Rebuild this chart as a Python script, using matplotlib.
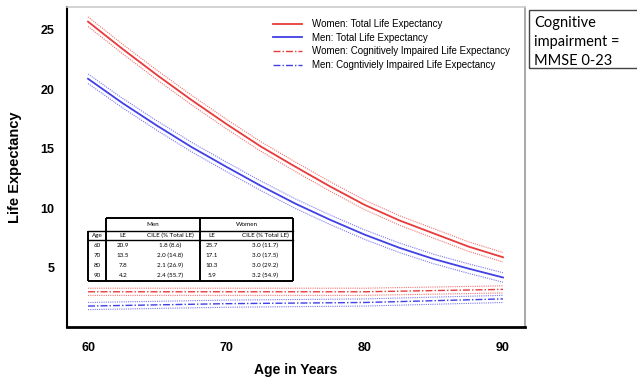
import matplotlib.pyplot as plt
from matplotlib.patches import Rectangle
import numpy as np

plt.rcParams['font.family'] = ['Liberation Sans', 'DejaVu Sans']

# --- data ---
ages = [60, 62.5, 65, 67.5, 70, 72.5, 75, 77.5, 80, 82.5, 85, 87.5, 90]
women_le = [25.7, 23.4, 21.2, 19.1, 17.1, 15.2, 13.5, 11.85, 10.3, 9.0, 7.9, 6.8, 5.9]
men_le = [20.9, 18.85, 16.95, 15.15, 13.5, 11.9, 10.4, 9.05, 7.8, 6.7, 5.75, 4.95, 4.2]
le_ci = 0.4

table_ages = [60, 70, 80, 90]
men_cile = [1.8, 2.0, 2.1, 2.4]
women_cile = [3.0, 3.0, 3.0, 3.2]
men_pct = [8.6, 14.8, 26.9, 55.7]
women_pct = [11.7, 17.5, 29.2, 54.9]
cile_ci = 0.3

RED = '#e83a3a'
BLUE = '#4040e6'

fig = plt.figure(figsize=(6.37, 3.80), dpi=100)
ax = fig.add_axes([67/637, 53/380, 458/637, 320/380])

def band(x, y, half, color):
    y = np.asarray(y)
    for off in (-half, half):
        ax.plot(x, y + off, color=color, lw=0.8, ls=(0, (1, 1)), alpha=0.7)

# total life expectancy
band(ages, women_le, le_ci, RED)
band(ages, men_le, le_ci, BLUE)
ax.plot(ages, women_le, color=RED, lw=1.3, label='Women: Total Life Expectancy')
ax.plot(ages, men_le, color=BLUE, lw=1.3, label='Men: Total Life Expectancy')

# cognitively impaired life expectancy
band(table_ages, women_cile, cile_ci, RED)
band(table_ages, men_cile, cile_ci, BLUE)
ax.plot(table_ages, women_cile, color=RED, lw=1.0, ls=(0, (5, 1.5, 1, 1.5)),
        label='Women: Cognitively Impaired Life Expectancy')
ax.plot(table_ages, men_cile, color=BLUE, lw=1.0, ls=(0, (5, 1.5, 1, 1.5)),
        label='Men: Cogntiviely Impaired Life Expectancy')

ax.set_xlim(58.48, 91.59)
ax.set_ylim(0.04, 26.93)
ax.set_xticks([60, 70, 80, 90])
ax.set_yticks([5, 10, 15, 20, 25])
ax.tick_params(axis='x', length=0, pad=11, labelsize=9)
ax.tick_params(axis='y', length=0, pad=9, labelsize=9)
for lab in ax.get_xticklabels() + ax.get_yticklabels():
    lab.set_fontweight('bold')

ax.set_xlabel('Age in Years', fontweight='bold', fontsize=10, labelpad=6)
ax.set_ylabel('Life Expectancy', fontweight='bold', fontsize=10.5, labelpad=13)

ax.spines['left'].set_linewidth(1.5)
ax.spines['bottom'].set_linewidth(2.0)
ax.spines['top'].set_color('#cccccc')
ax.spines['top'].set_linewidth(1.2)
ax.spines['right'].set_color('#999999')
ax.spines['right'].set_linewidth(1.2)

ax.legend(loc='upper left', bbox_to_anchor=(273/637, 1 - 19/380),
          bbox_transform=fig.transFigure, frameon=False, fontsize=7,
          handlelength=3.0, handletextpad=1.0, labelspacing=0.38,
          borderpad=0, borderaxespad=0)

# note box on the right
fig.patches.append(Rectangle((529/637, 1 - 68/380), 0.2, 58/380,
                             transform=fig.transFigure, fill=False,
                             edgecolor='#444444', lw=1.0))
fig.text(534/637, 1 - 16/380, 'Cognitive\nimpairment =\nMMSE 0-23',
         family=['Lato', 'DejaVu Sans'], fontsize=10.5, va='top', ha='left',
         linespacing=1.45)

# --- summary table ---
tb = fig.add_axes([88/637, 99/380, 205/637, 63/380])
tb.set_xlim(0, 205)
tb.set_ylim(63, 0)
tb.axis('off')
thick = dict(color='black', lw=1.4, solid_capstyle='butt')
thin = dict(color='black', lw=1.0)
tb.plot([18, 205], [0, 0], **thick)
tb.plot([0, 205], [63, 63], **thick)
tb.plot([0, 0], [13, 63], **thick)
tb.plot([205, 205], [0, 63], **thick)
tb.plot([18, 18], [0, 63], **thick)
tb.plot([112, 112], [0, 63], **thick)
tb.plot([0, 205], [13, 13], **thin)
tb.plot([0, 205], [22, 22], **thin)
for a in (tb.lines):
    a.set_clip_on(False)

tfont = dict(family=['Lato', 'DejaVu Sans'], fontsize=4.5, ha='center', va='center')
tb.text(65, 6.5, 'Men', **tfont)
tb.text(158.5, 6.5, 'Women', **tfont)
cols = [9, 35, 82, 124, 177]
for cx, h in zip(cols, ['Age', 'LE', 'CILE (% Total LE)', 'LE', 'CILE (% Total LE)']):
    tb.text(cx, 17.5, h, **tfont)
men_tab = [20.9, 13.5, 7.8, 4.2]
women_tab = [25.7, 17.1, 10.3, 5.9]
for i, age in enumerate(table_ages):
    ry = 27.1 + i * 10.25
    row = [str(age), f'{men_tab[i]:.1f}', f'{men_cile[i]:.1f} ({men_pct[i]:.1f})',
           f'{women_tab[i]:.1f}', f'{women_cile[i]:.1f} ({women_pct[i]:.1f})']
    for cx, s in zip(cols, row):
        tb.text(cx, ry, s, **tfont)

fig.savefig('out.png', dpi=100)
